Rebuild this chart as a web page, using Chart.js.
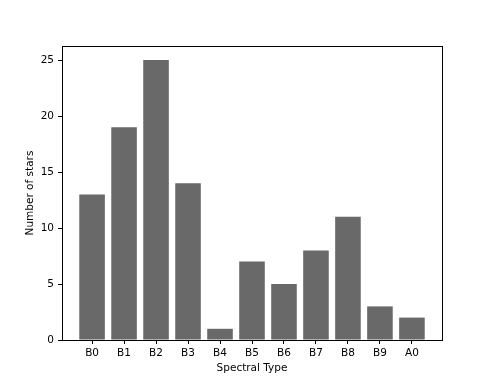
<!DOCTYPE html>
<html><head><meta charset="utf-8">
<script src="https://cdn.jsdelivr.net/npm/chart.js@4/dist/chart.umd.min.js"></script>
<style>html,body{margin:0;padding:0;background:#fff}#wrap{width:491px;height:382px}</style>
</head><body><div id="wrap"><canvas id="c" width="491" height="382"></canvas></div>
<script>
const categories = ["B0","B1","B2","B3","B4","B5","B6","B7","B8","B9","A0"];
const counts = [13, 19, 25, 14, 1, 7, 5, 8, 11, 3, 2];
const yTicks = [0, 5, 10, 15, 20, 25];

const FONT = {family: "'DejaVu Sans'", size: 10.5};
const boxPlugin = {
  id: 'box',
  afterDraw(chart) {
    const a = chart.chartArea, ctx = chart.ctx;
    ctx.save();
    ctx.strokeStyle = '#000'; ctx.lineWidth = 1;
    ctx.strokeRect(Math.round(a.left)+0.5, Math.round(a.top)+0.5, Math.round(a.right-a.left), Math.round(a.bottom-a.top));
    ctx.restore();
  }
};
new Chart(document.getElementById('c'), {
  type: 'bar',
  data: {
    datasets: [{
      data: counts.map((v, i) => ({x: i, y: v})),
      backgroundColor: '#696969',
      barPercentage: 0.8,
      categoryPercentage: 1.0
    }]
  },
  options: {
    responsive: false,
    animation: false,
    layout: {padding: {left: 0, top: 46, right: 49, bottom: 0}},
    plugins: {legend: {display: false}, tooltip: {enabled: false}},
    scales: {
      x: {
        type: 'linear',
        offset: false,
        min: -0.94, max: 10.94,
        afterBuildTicks(s) { s.ticks = categories.map((c, i) => ({value: i})); },
        afterFit(s) { s.height = 42; },
        ticks: {callback: (v) => categories[v] ?? '', color: '#000', font: FONT, padding: 3, autoSkip: false, maxRotation: 0},
        grid: {offset: false, drawOnChartArea: false, tickLength: 4, color: '#000', tickColor: '#000'},
        border: {display: false},
        title: {display: true, text: 'Spectral Type', color: '#000', font: FONT, padding: {top: 0, bottom: 7}}
      },
      y: {
        min: 0, max: 26.25,
        afterBuildTicks(s) { s.ticks = yTicks.map(v => ({value: v})); },
        afterFit(s) { s.width = 62; },
        ticks: {color: '#000', font: FONT, padding: 4},
        grid: {drawOnChartArea: false, tickLength: 4, color: '#000', tickColor: '#000'},
        border: {display: false},
        title: {display: true, text: 'Number of stars', color: '#000', font: FONT, padding: {top: 24, bottom: 0}}
      }
    }
  },
  plugins: [boxPlugin]
});
</script></body></html>
